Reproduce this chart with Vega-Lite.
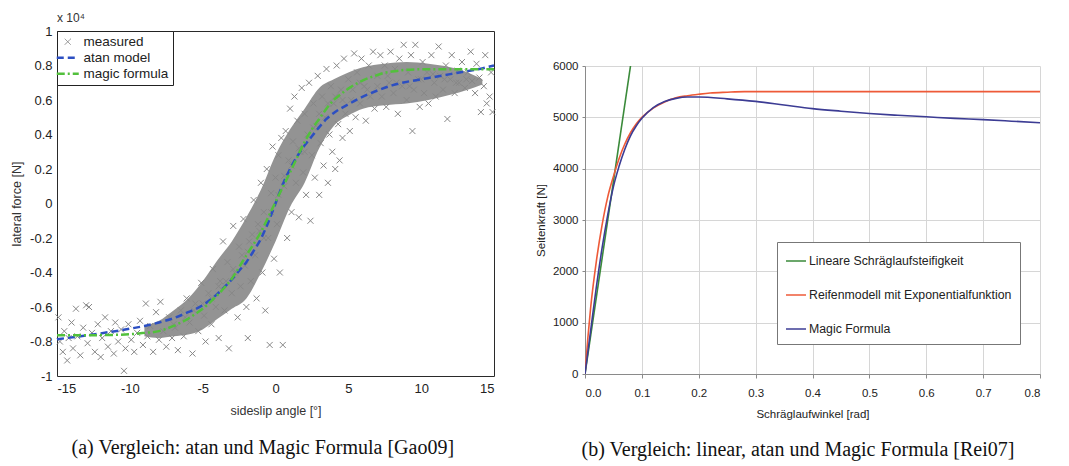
{
  "$schema": "https://vega.github.io/schema/vega-lite/v6.json",
  "background": "white",
  "padding": {"left": 10, "top": 11, "right": 6, "bottom": 2},
  "config": {"font": "Liberation Sans"},
  "spacing": 35,
  "resolve": {"scale": {"color": "independent", "strokeDash": "independent", "x": "independent", "y": "independent"}, "legend": {"color": "independent", "strokeDash": "independent"}},
  "datasets": {
    "band": [
      {"x": -9, "lo": -0.77, "hi": -0.71},
      {"x": -8, "lo": -0.78, "hi": -0.68},
      {"x": -7, "lo": -0.77, "hi": -0.62},
      {"x": -6, "lo": -0.76, "hi": -0.55},
      {"x": -5, "lo": -0.73, "hi": -0.45},
      {"x": -4, "lo": -0.67, "hi": -0.33},
      {"x": -3, "lo": -0.61, "hi": -0.22},
      {"x": -2, "lo": -0.55, "hi": -0.08},
      {"x": -1, "lo": -0.4, "hi": 0.08},
      {"x": 0, "lo": -0.22, "hi": 0.28},
      {"x": 1, "lo": -0.02, "hi": 0.43},
      {"x": 2, "lo": 0.12, "hi": 0.55},
      {"x": 3, "lo": 0.32, "hi": 0.67},
      {"x": 4, "lo": 0.45, "hi": 0.72},
      {"x": 5, "lo": 0.51, "hi": 0.76},
      {"x": 6, "lo": 0.55, "hi": 0.79},
      {"x": 7.5, "lo": 0.57, "hi": 0.81},
      {"x": 9, "lo": 0.58, "hi": 0.82},
      {"x": 10.5, "lo": 0.6, "hi": 0.81},
      {"x": 12, "lo": 0.63, "hi": 0.79},
      {"x": 13.2, "lo": 0.66, "hi": 0.76},
      {"x": 14.2, "lo": 0.69, "hi": 0.72}
    ],
    "pts": [
      {"x":-14.9,"y":-0.66},{"x":-14.8,"y":-0.8},{"x":-14.6,"y":-0.86},{"x":-14.5,"y":-0.74},
      {"x":-14.3,"y":-0.91},{"x":-14.2,"y":-0.78},{"x":-14.0,"y":-0.69},{"x":-13.9,"y":-0.84},
      {"x":-13.7,"y":-0.61},{"x":-13.6,"y":-0.77},{"x":-13.4,"y":-0.88},{"x":-13.2,"y":-0.72},
      {"x":-13.0,"y":-0.59},{"x":-12.9,"y":-0.81},{"x":-12.8,"y":-0.6},{"x":-12.6,"y":-0.75},
      {"x":-12.4,"y":-0.86},{"x":-12.2,"y":-0.7},{"x":-12.0,"y":-0.89},{"x":-11.9,"y":-0.78},
      {"x":-11.7,"y":-0.66},{"x":-11.5,"y":-0.83},{"x":-11.3,"y":-0.74},{"x":-11.1,"y":-0.87},
      {"x":-11.0,"y":-0.69},{"x":-10.8,"y":-0.8},{"x":-10.6,"y":-0.73},{"x":-10.4,"y":-0.97},
      {"x":-10.3,"y":-0.84},{"x":-10.1,"y":-0.7},{"x":-9.9,"y":-0.79},{"x":-9.7,"y":-0.86},
      {"x":-9.5,"y":-0.75},{"x":-9.3,"y":-0.68},{"x":-9.1,"y":-0.82},{"x":-8.9,"y":-0.58},
      {"x":-8.8,"y":-0.77},{"x":-8.6,"y":-0.71},{"x":-8.4,"y":-0.86},{"x":-8.2,"y":-0.63},
      {"x":-8.0,"y":-0.79},{"x":-7.9,"y":-0.57},{"x":-7.7,"y":-0.74},{"x":-7.5,"y":-0.83},
      {"x":-7.3,"y":-0.66},{"x":-7.1,"y":-0.78},
      {"x":-6.9,"y":-0.72},{"x":-6.7,"y":-0.85},{"x":-6.5,"y":-0.62},{"x":-6.3,"y":-0.77},
      {"x":-6.1,"y":-0.55},{"x":-5.9,"y":-0.69},{"x":-5.7,"y":-0.87},{"x":-5.5,"y":-0.58},
      {"x":-5.3,"y":-0.74},{"x":-5.1,"y":-0.46},{"x":-4.9,"y":-0.65},{"x":-4.8,"y":-0.8},
      {"x":-4.6,"y":-0.52},{"x":-4.4,"y":-0.7},{"x":-4.3,"y":-0.38},{"x":-4.1,"y":-0.6},
      {"x":-3.9,"y":-0.78},{"x":-3.8,"y":-0.45},{"x":-3.6,"y":-0.22},{"x":-3.5,"y":-0.62},
      {"x":-3.3,"y":-0.34},{"x":-3.2,"y":-0.84},{"x":-3.0,"y":-0.52},{"x":-2.9,"y":-0.13},
      {"x":-2.8,"y":-0.4},{"x":-2.6,"y":-0.66},{"x":-2.5,"y":-0.25},{"x":-2.4,"y":-0.48},
      {"x":-2.2,"y":-0.09},{"x":-2.1,"y":-0.36},{"x":-2.0,"y":-0.6},{"x":-1.9,"y":-0.78},
      {"x":-1.8,"y":-0.22},{"x":-1.7,"y":-0.45},{"x":-1.5,"y":0.02},{"x":-1.4,"y":-0.3},
      {"x":-1.3,"y":-0.55},{"x":-1.2,"y":-0.12},{"x":-1.0,"y":0.12},{"x":-0.9,"y":-0.4},
      {"x":-0.8,"y":-0.05},{"x":-0.7,"y":-0.62},{"x":-0.6,"y":0.2},{"x":-0.5,"y":-0.2},
      {"x":-0.4,"y":-0.82},{"x":-0.3,"y":0.06},{"x":-0.2,"y":0.33},{"x":-0.1,"y":-0.32},
      {"x":0.0,"y":0.15},{"x":0.1,"y":-0.12},{"x":0.2,"y":0.28},{"x":0.3,"y":-0.4},
      {"x":0.4,"y":0.38},{"x":0.5,"y":-0.82},{"x":0.6,"y":0.1},{"x":0.7,"y":0.42},
      {"x":0.8,"y":-0.2},{"x":0.9,"y":0.25},{"x":1.0,"y":0.55},{"x":1.1,"y":-0.05},
      {"x":1.2,"y":0.36},{"x":1.3,"y":0.62},{"x":1.4,"y":0.12},{"x":1.5,"y":0.48},
      {"x":1.6,"y":-0.08},{"x":1.7,"y":0.3},{"x":1.8,"y":0.67},{"x":1.9,"y":0.18},
      {"x":2.0,"y":0.52},{"x":2.1,"y":0.05},{"x":2.2,"y":0.4},{"x":2.3,"y":0.7},
      {"x":2.4,"y":-0.1},{"x":2.5,"y":0.28},{"x":2.6,"y":0.58},{"x":2.7,"y":0.15},
      {"x":2.8,"y":0.45},{"x":2.9,"y":0.74},{"x":3.0,"y":0.05},{"x":3.1,"y":0.35},
      {"x":3.2,"y":0.62},{"x":3.3,"y":0.22},{"x":3.4,"y":0.5},{"x":3.5,"y":0.78},
      {"x":3.6,"y":0.12},{"x":3.7,"y":0.4},{"x":3.8,"y":0.68},{"x":3.9,"y":0.3},
      {"x":4.0,"y":0.58},{"x":4.1,"y":0.2},{"x":4.2,"y":0.8},{"x":4.3,"y":0.46},
      {"x":4.4,"y":0.25},{"x":4.5,"y":0.66},{"x":4.6,"y":0.38},{"x":4.7,"y":0.84},
      {"x":4.8,"y":0.52},{"x":5.0,"y":0.72},{"x":5.1,"y":0.42},{"x":5.2,"y":0.6},
      {"x":5.4,"y":0.87},{"x":5.5,"y":0.5},{"x":5.6,"y":0.76},{"x":5.8,"y":0.58},
      {"x":5.9,"y":0.84},{"x":6.1,"y":0.68},{"x":6.2,"y":0.48},{"x":6.4,"y":0.8},
      {"x":6.5,"y":0.62},{"x":6.7,"y":0.88},{"x":6.8,"y":0.55},{"x":7.0,"y":0.74},
      {"x":7.2,"y":0.86},{"x":7.3,"y":0.62},{"x":7.5,"y":0.8},{"x":7.6,"y":0.56},
      {"x":7.8,"y":0.7},{"x":7.9,"y":0.88},{"x":8.1,"y":0.64},{"x":8.2,"y":0.78},
      {"x":8.4,"y":0.52},{"x":8.5,"y":0.84},{"x":8.7,"y":0.68},{"x":8.8,"y":0.92},
      {"x":9.0,"y":0.6},{"x":9.1,"y":0.76},{"x":9.3,"y":0.86},{"x":9.4,"y":0.42},
      {"x":9.5,"y":0.66},{"x":9.6,"y":0.92},{"x":9.8,"y":0.72},{"x":9.9,"y":0.56},
      {"x":10.1,"y":0.82},{"x":10.2,"y":0.64},{"x":10.4,"y":0.76},{"x":10.5,"y":0.58},
      {"x":10.7,"y":0.86},{"x":10.9,"y":0.7},{"x":11.0,"y":0.62},{"x":11.2,"y":0.91},
      {"x":11.3,"y":0.74},{"x":11.5,"y":0.66},{"x":11.7,"y":0.8},{"x":11.8,"y":0.49},
      {"x":12.0,"y":0.72},{"x":12.1,"y":0.86},{"x":12.3,"y":0.64},{"x":12.5,"y":0.77},
      {"x":12.6,"y":0.7},{"x":12.8,"y":0.82},{"x":13.0,"y":0.67},{"x":13.2,"y":0.76},
      {"x":13.4,"y":0.88},{"x":13.5,"y":0.71},{"x":13.7,"y":0.64},{"x":13.8,"y":0.81},
      {"x":14.0,"y":0.73},{"x":14.1,"y":0.53},{"x":14.3,"y":0.68},{"x":14.4,"y":0.86},
      {"x":14.5,"y":0.58},{"x":14.7,"y":0.62},{"x":14.8,"y":0.76},{"x":14.9,"y":0.53},
      {"x":-7.0,"y":-0.7},{"x":-6.2,"y":-0.66},{"x":-5.6,"y":-0.62},{"x":-5.0,"y":-0.58},
      {"x":-4.4,"y":-0.55},{"x":-3.9,"y":-0.48},{"x":-3.4,"y":-0.45},{"x":-2.9,"y":-0.38},
      {"x":-2.3,"y":-0.3},{"x":-1.9,"y":-0.28},{"x":-1.6,"y":-0.18},{"x":-1.1,"y":-0.16},
      {"x":-0.8,"y":-0.2},{"x":-0.3,"y":-0.05},{"x":0.2,"y":0.05},{"x":0.6,"y":0.16},
      {"x":1.1,"y":0.22},{"x":1.6,"y":0.32},{"x":2.0,"y":0.3},{"x":2.6,"y":0.44},
      {"x":3.0,"y":0.52},{"x":3.6,"y":0.58},{"x":4.1,"y":0.62},{"x":4.6,"y":0.6},
      {"x":5.3,"y":0.66},{"x":5.8,"y":0.7},{"x":6.3,"y":0.66},{"x":7.0,"y":0.68},
      {"x":7.7,"y":0.74},{"x":8.3,"y":0.7},{"x":9.2,"y":0.68},{"x":10.0,"y":0.72},
      {"x":10.8,"y":0.75},{"x":11.6,"y":0.72},{"x":12.4,"y":0.7},{"x":13.1,"y":0.72}
    ],
    "models": [
      {"s":"atan model","x":-15,"y":-0.787},{"s":"atan model","x":-13,"y":-0.765},{"s":"atan model","x":-11,"y":-0.74},{"s":"atan model","x":-10,"y":-0.726},
      {"s":"atan model","x":-9,"y":-0.71},{"s":"atan model","x":-8,"y":-0.69},{"s":"atan model","x":-7,"y":-0.665},{"s":"atan model","x":-6,"y":-0.63},
      {"s":"atan model","x":-5,"y":-0.59},{"s":"atan model","x":-4.5,"y":-0.56},{"s":"atan model","x":-4,"y":-0.525},{"s":"atan model","x":-3.5,"y":-0.484},
      {"s":"atan model","x":-3,"y":-0.44},{"s":"atan model","x":-2.5,"y":-0.39},{"s":"atan model","x":-2,"y":-0.34},{"s":"atan model","x":-1.5,"y":-0.275},
      {"s":"atan model","x":-1,"y":-0.204},{"s":"atan model","x":-0.5,"y":-0.11},{"s":"atan model","x":0,"y":0.0},{"s":"atan model","x":0.5,"y":0.11},
      {"s":"atan model","x":1,"y":0.2},{"s":"atan model","x":1.5,"y":0.275},{"s":"atan model","x":2,"y":0.337},{"s":"atan model","x":2.5,"y":0.39},
      {"s":"atan model","x":3,"y":0.443},{"s":"atan model","x":3.5,"y":0.49},{"s":"atan model","x":4,"y":0.525},{"s":"atan model","x":5,"y":0.575},
      {"s":"atan model","x":6,"y":0.62},{"s":"atan model","x":7,"y":0.655},{"s":"atan model","x":8,"y":0.685},{"s":"atan model","x":9,"y":0.705},
      {"s":"atan model","x":10,"y":0.72},{"s":"atan model","x":11,"y":0.735},{"s":"atan model","x":12,"y":0.75},{"s":"atan model","x":13,"y":0.765},
      {"s":"atan model","x":14,"y":0.78},{"s":"atan model","x":15,"y":0.8},
      {"s":"magic formula","x":-15,"y":-0.764},{"s":"magic formula","x":-12,"y":-0.763},{"s":"magic formula","x":-10,"y":-0.758},{"s":"magic formula","x":-9,"y":-0.75},
      {"s":"magic formula","x":-8,"y":-0.74},{"s":"magic formula","x":-7.5,"y":-0.726},{"s":"magic formula","x":-7,"y":-0.71},{"s":"magic formula","x":-6.5,"y":-0.69},
      {"s":"magic formula","x":-6,"y":-0.668},{"s":"magic formula","x":-5.5,"y":-0.64},{"s":"magic formula","x":-5,"y":-0.61},{"s":"magic formula","x":-4.5,"y":-0.573},
      {"s":"magic formula","x":-4,"y":-0.532},{"s":"magic formula","x":-3.5,"y":-0.487},{"s":"magic formula","x":-3,"y":-0.436},{"s":"magic formula","x":-2.5,"y":-0.37},
      {"s":"magic formula","x":-2,"y":-0.3},{"s":"magic formula","x":-1.5,"y":-0.235},{"s":"magic formula","x":-1,"y":-0.165},{"s":"magic formula","x":-0.5,"y":-0.08},
      {"s":"magic formula","x":0,"y":0.009},{"s":"magic formula","x":0.5,"y":0.095},{"s":"magic formula","x":1,"y":0.18},{"s":"magic formula","x":1.5,"y":0.27},
      {"s":"magic formula","x":2,"y":0.357},{"s":"magic formula","x":2.5,"y":0.43},{"s":"magic formula","x":3,"y":0.49},{"s":"magic formula","x":3.5,"y":0.55},
      {"s":"magic formula","x":4,"y":0.6},{"s":"magic formula","x":4.5,"y":0.635},{"s":"magic formula","x":5,"y":0.666},{"s":"magic formula","x":6,"y":0.714},
      {"s":"magic formula","x":7,"y":0.745},{"s":"magic formula","x":7.5,"y":0.758},{"s":"magic formula","x":8,"y":0.765},{"s":"magic formula","x":9,"y":0.775},
      {"s":"magic formula","x":10,"y":0.778},{"s":"magic formula","x":12.5,"y":0.778},{"s":"magic formula","x":15,"y":0.778}
    ],
    "b": [
      {"s":"Lineare Schräglaufsteifigkeit","x":0,"y":0},{"s":"Lineare Schräglaufsteifigkeit","x":0.08,"y":6000},
      {"s":"Reifenmodell mit Exponentialfunktion","x":0,"y":0},{"s":"Reifenmodell mit Exponentialfunktion","x":0.005,"y":700},
      {"s":"Reifenmodell mit Exponentialfunktion","x":0.01,"y":1300},{"s":"Reifenmodell mit Exponentialfunktion","x":0.02,"y":2200},
      {"s":"Reifenmodell mit Exponentialfunktion","x":0.03,"y":2900},{"s":"Reifenmodell mit Exponentialfunktion","x":0.04,"y":3450},
      {"s":"Reifenmodell mit Exponentialfunktion","x":0.05,"y":3850},{"s":"Reifenmodell mit Exponentialfunktion","x":0.06,"y":4200},
      {"s":"Reifenmodell mit Exponentialfunktion","x":0.07,"y":4480},{"s":"Reifenmodell mit Exponentialfunktion","x":0.08,"y":4700},
      {"s":"Reifenmodell mit Exponentialfunktion","x":0.09,"y":4870},{"s":"Reifenmodell mit Exponentialfunktion","x":0.1,"y":5000},
      {"s":"Reifenmodell mit Exponentialfunktion","x":0.12,"y":5180},{"s":"Reifenmodell mit Exponentialfunktion","x":0.14,"y":5300},
      {"s":"Reifenmodell mit Exponentialfunktion","x":0.16,"y":5380},{"s":"Reifenmodell mit Exponentialfunktion","x":0.18,"y":5420},
      {"s":"Reifenmodell mit Exponentialfunktion","x":0.2,"y":5450},{"s":"Reifenmodell mit Exponentialfunktion","x":0.22,"y":5475},
      {"s":"Reifenmodell mit Exponentialfunktion","x":0.25,"y":5490},{"s":"Reifenmodell mit Exponentialfunktion","x":0.28,"y":5500},
      {"s":"Reifenmodell mit Exponentialfunktion","x":0.4,"y":5500},{"s":"Reifenmodell mit Exponentialfunktion","x":0.6,"y":5500},
      {"s":"Reifenmodell mit Exponentialfunktion","x":0.8,"y":5500},
      {"s":"Magic Formula","x":0,"y":0},{"s":"Magic Formula","x":0.01,"y":850},{"s":"Magic Formula","x":0.02,"y":1700},
      {"s":"Magic Formula","x":0.03,"y":2450},{"s":"Magic Formula","x":0.04,"y":3100},{"s":"Magic Formula","x":0.05,"y":3650},
      {"s":"Magic Formula","x":0.06,"y":4050},{"s":"Magic Formula","x":0.07,"y":4380},{"s":"Magic Formula","x":0.08,"y":4640},
      {"s":"Magic Formula","x":0.09,"y":4830},{"s":"Magic Formula","x":0.1,"y":4980},{"s":"Magic Formula","x":0.12,"y":5190},
      {"s":"Magic Formula","x":0.14,"y":5310},{"s":"Magic Formula","x":0.16,"y":5370},{"s":"Magic Formula","x":0.18,"y":5395},
      {"s":"Magic Formula","x":0.2,"y":5395},{"s":"Magic Formula","x":0.25,"y":5360},{"s":"Magic Formula","x":0.3,"y":5310},
      {"s":"Magic Formula","x":0.35,"y":5240},{"s":"Magic Formula","x":0.4,"y":5170},{"s":"Magic Formula","x":0.45,"y":5120},
      {"s":"Magic Formula","x":0.5,"y":5075},{"s":"Magic Formula","x":0.55,"y":5040},{"s":"Magic Formula","x":0.6,"y":5010},
      {"s":"Magic Formula","x":0.65,"y":4980},{"s":"Magic Formula","x":0.7,"y":4955},{"s":"Magic Formula","x":0.75,"y":4925},
      {"s":"Magic Formula","x":0.8,"y":4895}
    ],
    "empty": []
  },
  "hconcat": [
    {
      "title": {"text": "(a)  Vergleich: atan und Magic Formula [Gao09]", "orient": "bottom", "anchor": "middle", "font": "Liberation Serif", "fontSize": 20, "fontWeight": "normal", "color": "#111", "offset": 21, "dx": 8},
      "vconcat": [
        {
          "width": 437,
          "height": 345,
          "title": {"text": "x 10⁴", "anchor": "start", "frame": "group", "fontSize": 12, "fontWeight": "normal", "color": "#333", "offset": 0, "font": "Liberation Sans"},
          "view": {"stroke": "#2a2a2a", "strokeWidth": 1},
          "layer": [
            {
              "data": {"name": "band"},
              "mark": {"type": "area", "color": "#939393", "interpolate": "monotone"},
              "encoding": {
                "x": {"field": "x", "type": "quantitative", "scale": {"domain": [-15, 15], "nice": false, "zero": false},
                  "axis": {"title": "sideslip angle [°]", "values": [-15, -10, -5, 0, 5, 10, 15], "tickCount": 20, "labelExpr": "replace(format(datum.value,'d'),'\u2212','-')", "labelOverlap": false, "ticks": false, "domain": false, "grid": false, "labelFontSize": 13, "labelColor": "#222", "labelPadding": 6, "titleFontSize": 12.5, "titleFontWeight": "normal", "titleColor": "#333", "titlePadding": 9}},
                "y": {"field": "lo", "type": "quantitative", "scale": {"domain": [-1, 1], "nice": false, "zero": false},
                  "axis": {"title": "lateral force [N]", "values": [-1, -0.8, -0.6, -0.4, -0.2, 0, 0.2, 0.4, 0.6, 0.8, 1], "tickCount": 20, "labelExpr": "replace(format(datum.value,'.1~f'),'\u2212','-')", "labelOverlap": false, "ticks": false, "domain": false, "grid": false, "labelFontSize": 13, "labelColor": "#222", "labelPadding": 5, "titleFontSize": 12.5, "titleFontWeight": "normal", "titleColor": "#333", "titlePadding": 6}},
                "y2": {"field": "hi"}
              }
            },
            {
              "data": {"name": "pts"},
              "mark": {"type": "point", "shape": "M-1,-1L1,1M1,-1L-1,1", "filled": false, "size": 36, "strokeWidth": 1, "opacity": 1, "color": "#878787"},
              "encoding": {
                "x": {"field": "x", "type": "quantitative"},
                "y": {"field": "y", "type": "quantitative"}
              }
            },
            {
              "data": {"name": "models"},
              "mark": {"type": "line", "strokeWidth": 2.5, "interpolate": "monotone"},
              "encoding": {
                "x": {"field": "x", "type": "quantitative"},
                "y": {"field": "y", "type": "quantitative"},
                "color": {"field": "s", "type": "nominal",
                  "scale": {"domain": ["measured", "atan model", "magic formula"], "range": ["#878787", "#2c4fc2", "#52c03c"]},
                  "legend": {"orient": "top-left", "offset": 0, "title": null, "fillColor": "white", "strokeColor": "#222", "padding": 4, "rowPadding": 1, "labelFontSize": 13.5, "labelColor": "#222", "labelOffset": 9, "symbolType": "stroke", "symbolSize": 484, "symbolStrokeWidth": 2.5,
                    "encode": {"symbols": {"update": {
                      "shape": {"signal": "datum.value === 'measured' ? 'M-1,-1L1,1M1,-1L-1,1' : 'stroke'"},
                      "size": {"signal": "datum.value === 'measured' ? 36 : 484"},
                      "strokeWidth": {"signal": "datum.value === 'measured' ? 1 : 2.5"}
                    }}}}},
                "strokeDash": {"field": "s", "type": "nominal",
                  "scale": {"domain": ["measured", "atan model", "magic formula"], "range": [[1, 0], [7, 4], [8, 3, 2, 3]]},
                  "legend": {"orient": "top-left", "offset": 0, "title": null, "fillColor": "white", "strokeColor": "#222", "padding": 4, "rowPadding": 1, "labelFontSize": 13.5, "labelColor": "#222", "labelOffset": 9, "symbolType": "stroke", "symbolSize": 484, "symbolStrokeWidth": 2.5,
                    "encode": {"symbols": {"update": {
                      "shape": {"signal": "datum.value === 'measured' ? 'M-1,-1L1,1M1,-1L-1,1' : 'stroke'"},
                      "size": {"signal": "datum.value === 'measured' ? 36 : 484"},
                      "strokeWidth": {"signal": "datum.value === 'measured' ? 1 : 2.5"}
                    }}}}}
              }
            }
          ]
        }
      ]
    },
    {
      "title": {"text": "(b)  Vergleich: linear, atan und Magic Formula [Rei07]", "orient": "bottom", "anchor": "middle", "font": "Liberation Serif", "fontSize": 20, "fontWeight": "normal", "color": "#111", "offset": 20, "dx": 10},
      "spacing": 0,
      "vconcat": [
        {
          "width": 455,
          "height": 29,
          "data": {"name": "empty"},
          "view": {"stroke": null},
          "mark": "point",
          "encoding": {}
        },
        {
          "width": 455,
          "height": 308,
          "view": {"stroke": null},
          "data": {"name": "b"},
          "mark": {"type": "line", "strokeWidth": 1.6, "interpolate": "monotone", "clip": true},
          "encoding": {
            "x": {"field": "x", "type": "quantitative", "scale": {"domain": [0, 0.8], "nice": false},
              "axis": {"title": "Schräglaufwinkel [rad]", "values": [0, 0.1, 0.2, 0.3, 0.4, 0.5, 0.6, 0.7, 0.8], "tickCount": 20, "format": ".1f", "grid": true, "gridColor": "#d6d6d6", "domainColor": "#8a8a8a", "tickColor": "#8a8a8a", "tickSize": 4, "labelFontSize": 11.5, "labelColor": "#222", "labelPadding": 9, "titleFontSize": 11.5, "titleFontWeight": "normal", "titleColor": "#222", "titlePadding": 10}},
            "y": {"field": "y", "type": "quantitative", "scale": {"domain": [0, 6000], "nice": false},
              "axis": {"title": "Seitenkraft [N]", "values": [0, 1000, 2000, 3000, 4000, 5000, 6000], "tickCount": 20, "format": "d", "grid": true, "gridColor": "#d6d6d6", "domainColor": "#8a8a8a", "tickColor": "#8a8a8a", "tickSize": 3, "labelFontSize": 11.5, "labelColor": "#222", "labelPadding": 4, "titleFontSize": 11.5, "titleFontWeight": "normal", "titleColor": "#222", "titlePadding": 6}},
            "color": {"field": "s", "type": "nominal",
              "scale": {"domain": ["Lineare Schräglaufsteifigkeit", "Reifenmodell mit Exponentialfunktion", "Magic Formula"], "range": ["#3a8a3a", "#ee5a38", "#3c3c94"]},
              "legend": {"orient": "none", "legendX": 192, "legendY": 211, "title": null, "fillColor": "white", "strokeColor": "#777", "padding": 8, "rowPadding": 16, "symbolType": "stroke", "symbolSize": 400, "symbolStrokeWidth": 1.5, "labelFontSize": 12.3, "labelColor": "#222", "labelOffset": 2, "labelLimit": 300}}
          }
        }
      ]
    }
  ]
}
